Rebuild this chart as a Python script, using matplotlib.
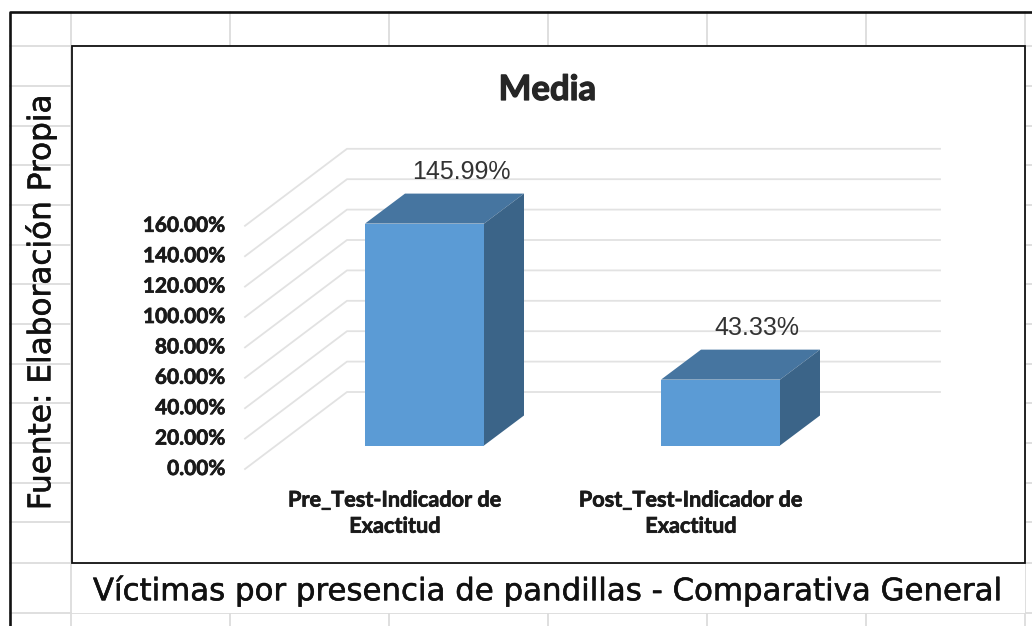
import matplotlib
matplotlib.use('Agg')
import matplotlib.pyplot as plt
import matplotlib.patheffects as pe
from matplotlib.patches import Polygon, Rectangle

categories = ['Pre_Test-Indicador de\nExactitud', 'Post_Test-Indicador de\nExactitud']
values = [145.99, 43.33]
value_labels = ['145.99%', '43.33%']
ticks = [0, 20, 40, 60, 80, 100, 120, 140, 160]
tick_labels = ['0.00%', '20.00%', '40.00%', '60.00%', '80.00%', '100.00%', '120.00%', '140.00%', '160.00%']
title = 'Media'
side_text = 'Fuente: Elaboración Propia'
bottom_text = 'Víctimas por presencia de pandillas - Comparativa General'

W, H = 1032, 626
PX_X = 296.0   # pixels per category
PX_Y = 1.52    # pixels per percent
X0, Y0 = 424.5, 445.5  # pixel of first bar centre / baseline

# the reference text is heavier than the regular weights
heavy = [pe.withStroke(linewidth=0.4, foreground='#111111')]
heavy_bold = [pe.withStroke(linewidth=0.5, foreground='#1a1a1a')]

fig = plt.figure(figsize=(W / 100, H / 100), dpi=100)

# spreadsheet behind the chart, in pixels
bg = fig.add_axes([0, 0, 1, 1])
bg.set_xlim(0, W)
bg.set_ylim(H, 0)
bg.axis('off')
sheet = '#dcdcdc'
row_lines = [46, 86, 126, 165, 205, 245, 284, 324, 364, 403, 443, 483, 522, 563, 613]
col_lines = [71, 230, 389, 548, 707, 866, 1025]
for y in row_lines:
    bg.plot([10, W], [y, y], color=sheet, lw=1.3, zorder=1)
for x in col_lines:
    bg.plot([x, x], [12, 46], color=sheet, lw=1.3, zorder=1)
    bg.plot([x, x], [613, H], color=sheet, lw=1.3, zorder=1)
bg.plot([71, 71], [46, 613], color=sheet, lw=1.3, zorder=1)
bg.plot([1025, 1025], [46, 613], color=sheet, lw=1.3, zorder=1)
bg.add_patch(Rectangle((72, 46), 953, 517, facecolor='white', edgecolor='#111111', lw=1.3, zorder=2))
bg.add_patch(Rectangle((72, 564), 953, 49, facecolor='white', edgecolor='none', zorder=1.5))
bg.plot([10, 10, W], [H, 12, 12], color='#111111', lw=1.9, zorder=3)
bg.text(41, 302, side_text, rotation=90, ha='center', va='center', fontsize=22.4,
        family='DejaVu Sans', color='#111111', zorder=4, path_effects=heavy)
bg.text(548, 591, bottom_text, ha='center', va='center', fontsize=22.2,
        family='DejaVu Sans', color='#111111', zorder=4, path_effects=heavy)

# chart, x in categories and y in percent
ax = fig.add_axes([0, 0, 1, 1], facecolor='none')
ax.set_xlim(-X0 / PX_X, (W - X0) / PX_X)
ax.set_ylim((Y0 - H) / PX_Y, Y0 / PX_Y)
ax.axis('off')

bar_width = 119 / PX_X
depth_x = 40 / PX_X
depth_y = 30 / PX_Y
floor_left = -179.5 / PX_X
floor_back = -77.5 / PX_X
floor_right = 515.5 / PX_X
floor_front_y = -23.5 / PX_Y
floor_back_y = 53.5 / PX_Y

for t, lab in zip(ticks, tick_labels):
    ax.plot([floor_left, floor_back, floor_right],
            [t + floor_front_y, t + floor_back_y, t + floor_back_y],
            color='#e2e2e2', lw=1.3, zorder=1)
    ax.text(floor_left - 20 / PX_X, t + floor_front_y, lab, ha='right', va='center',
            fontsize=15.0, fontweight='bold', family='Lato', color='#1a1a1a', path_effects=heavy_bold)

xs = list(range(len(values)))
ax.bar(xs, values, width=bar_width, color='#5b9bd5', zorder=3)
for x, v, lab, cat in zip(xs, values, value_labels, categories):
    l, r = x - bar_width / 2, x + bar_width / 2
    ax.add_patch(Polygon([(l, v), (r, v), (r + depth_x, v + depth_y), (l + depth_x, v + depth_y)],
                         facecolor='#4675a0', edgecolor='none', zorder=3))
    ax.add_patch(Polygon([(r, 0), (r + depth_x, depth_y), (r + depth_x, v + depth_y), (r, v)],
                         facecolor='#3b6488', edgecolor='none', zorder=3))
    ax.text(x + 0.124, v + 34, lab, ha='center', va='center', fontsize=18,
            family='Liberation Sans', color='#333333', zorder=4)
    ax.text(x - 0.1, -44.5, cat, ha='center', va='center', fontsize=15.6, linespacing=1.3,
            fontweight='bold', family='Lato', color='#1a1a1a', zorder=4, path_effects=heavy_bold)

ax.text(0.415, (Y0 - 90) / PX_Y, title, ha='center', va='center', fontsize=25,
        fontweight='bold', family='Lato', color='#262626',
        path_effects=[pe.withStroke(linewidth=0.9, foreground='#262626')])

fig.savefig('out.png', dpi=100)
